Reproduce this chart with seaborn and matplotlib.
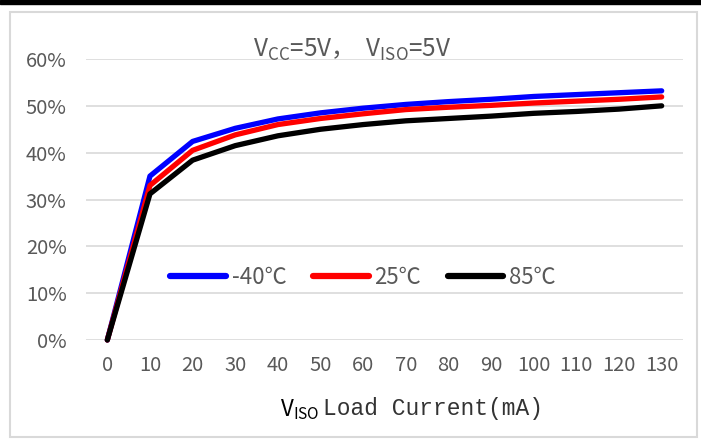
import pandas as pd
import seaborn as sns
import matplotlib.pyplot as plt
from matplotlib.patches import Rectangle
from matplotlib.ticker import PercentFormatter

# Datos (eficiencia vs. corriente de carga)
corriente = [0, 10, 20, 30, 40, 50, 60, 70, 80, 90, 100, 110, 120, 130]
temperaturas = ["-40℃", "25℃", "85℃"]
ef_m40 = [0, 35.0, 42.4, 45.2, 47.2, 48.5, 49.5, 50.3, 50.9, 51.4, 52.0, 52.4, 52.8, 53.2]
ef_25 = [0, 33.0, 40.5, 43.8, 46.0, 47.3, 48.3, 49.2, 49.7, 50.1, 50.6, 51.0, 51.4, 51.9]
ef_85 = [0, 31.2, 38.4, 41.5, 43.6, 45.0, 46.0, 46.8, 47.3, 47.8, 48.4, 48.8, 49.3, 50.0]
colores = ["#0000ff", "#ff0000", "#000000"]

df = pd.DataFrame({
    "corriente": corriente * 3,
    "eficiencia": ef_m40 + ef_25 + ef_85,
    "temp": [t for t in temperaturas for _ in corriente],
})

sns.set_style("white")
plt.rcParams["font.family"] = ["Noto Sans CJK SC", "DejaVu Sans"]
plt.rcParams["font.weight"] = "light"
gris = "#595959"

fig = plt.figure(figsize=(7.01, 4.43), dpi=100)
W, H = 701, 443
ax = fig.add_axes([86 / W, 1 - 340 / H, (683 - 86) / W, (340 - 59) / H])

sns.lineplot(data=df, x="corriente", y="eficiencia", hue="temp", hue_order=temperaturas,
             palette=colores, linewidth=3.8, ax=ax, solid_capstyle="round",
             solid_joinstyle="round", clip_on=False)

ax.set_xlim(-5, 135)
ax.set_ylim(0, 60)
ax.set_xticks(corriente)
ax.set_yticks(range(0, 61, 10))
ax.yaxis.set_major_formatter(PercentFormatter(decimals=0))
ax.grid(axis="y", color="#d9d9d9", linewidth=1.2)
ax.set_axisbelow(True)
for s in ax.spines.values():
    s.set_visible(False)
ax.tick_params(length=0, labelsize=14.5, labelcolor=gris)
ax.tick_params(axis="x", pad=11)
ax.tick_params(axis="y", pad=14)
ax.set_xlabel("")
ax.set_ylabel("")

leg = ax.legend(loc="center", bbox_to_anchor=((363 - 86) / 597, (340 - 277) / 281), ncol=3,
                frameon=False, fontsize=16, handlelength=2.5, handletextpad=0.25,
                columnspacing=1.2)
for t in leg.get_texts():
    t.set_color(gris)
for l in leg.get_lines():
    l.set_linewidth(4.5)
    l.set_solid_capstyle("round")

# título con subíndices
fig.text(352 / W, 1 - 50 / H, r"$\mathregular{V_{CC}}$=5V，  $\mathregular{V_{ISO}}$=5V",
         ha="center", va="center", fontsize=17.5, color=gris, family="Noto Sans CJK SC")

# etiqueta del eje x
fig.text(280 / W, 1 - 410 / H, r"$\mathregular{V_{ISO}}$", ha="left", va="center",
         fontsize=16, color="black", family="Noto Sans CJK SC", weight="normal")
fig.text(323 / W, 1 - 409 / H, "Load Current(mA)", ha="left", va="center",
         fontsize=16.5, color="#333333", family="Liberation Mono")

# marco del gráfico y barra superior
fig.patches.append(Rectangle((10 / W, 1 - 437 / H), 687 / W, 425 / H, transform=fig.transFigure,
                             fill=False, edgecolor="#d9d9d9", linewidth=1.5))
fig.patches.append(Rectangle((0, 1 - 4 / H), 1, 4 / H, transform=fig.transFigure,
                             color="black"))

fig.savefig("out.png", dpi=100)
